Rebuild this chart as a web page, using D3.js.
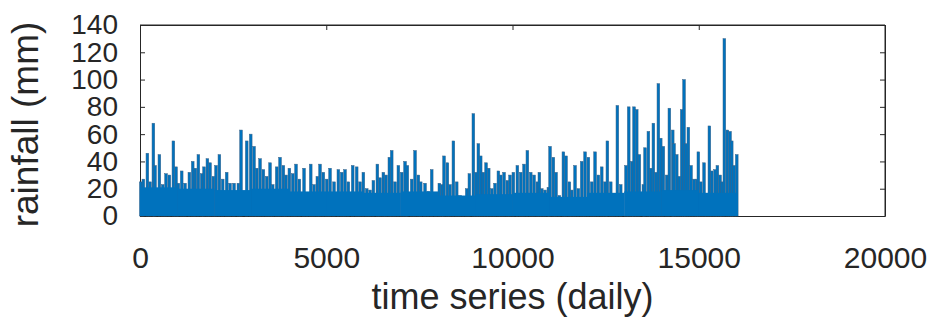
<!DOCTYPE html>
<html>
<head>
<meta charset="utf-8">
<script src="https://cdn.jsdelivr.net/npm/d3@7"></script>
<style>
  html, body { margin: 0; padding: 0; background: #fff; }
  text { font-family: "Liberation Sans", Arial, sans-serif; }
</style>
</head>
<body>
<div id="chart"></div>
<script>
// daily rainfall peaks (day index, mm)
const days = [20, 89, 197, 268, 358, 403, 519, 608, 698, 787, 895, 966, 1029, 1118, 1208, 1324, 1414, 1485, 1566, 1655,
  1718, 1808, 1879, 1969, 2040, 2130, 2219, 2326, 2416, 2523, 2640, 2711, 2864, 2971, 3060, 3132, 3222, 3311, 3400, 3490,
  3562, 3669, 3758, 3848, 3919, 4009, 4099, 4188, 4277, 4403, 4492, 4582, 4671, 4760, 4832, 4921, 5011, 5101, 5208, 5324,
  5414, 5503, 5593, 5709, 5816, 5906, 5995, 6085, 6175, 6264, 6371, 6443, 6532, 6604, 6693, 6756, 6846, 6935, 7024, 7114,
  7176, 7293, 7383, 7472, 7535, 7651, 7740, 7830, 7946, 8035, 8099, 8161, 8251, 8322, 8412, 8501, 8591, 8680, 8770, 8841,
  8948, 9020, 9082, 9145, 9216, 9289, 9360, 9441, 9530, 9620, 9682, 9772, 9861, 9933, 10022, 10129, 10219, 10309, 10398, 10488,
  10577, 10667, 10720, 10784, 10873, 10962, 11007, 11096, 11168, 11257, 11365, 11436, 11526, 11588, 11678, 11767, 11857, 11947, 12036, 12126,
  12215, 12304, 12394, 12483, 12546, 12636, 12725, 12814, 12904, 13046, 13119, 13200, 13262, 13334, 13405, 13512, 13557, 13647, 13710, 13781,
  13852, 13915, 13978, 14048, 14138, 14210, 14300, 14336, 14408, 14478, 14542, 14604, 14658, 14720, 14792, 14873, 14945, 14988, 15052, 15141,
  15213, 15284, 15347, 15437, 15499, 15571, 15616, 15686, 15767, 15839, 15884, 15947, 16019];
const rain = [25, 27, 46, 25, 68, 37, 45, 23, 31, 30, 55, 36, 24, 33, 24, 32, 40, 35, 45, 31,
  36, 42, 39, 29, 37, 45, 27, 32, 24, 24, 24, 63, 55, 60, 51, 35, 42, 34, 29, 39,
  23, 36, 43, 37, 30, 35, 31, 38, 27, 35, 14, 38, 23, 29, 38, 32, 27, 35, 25, 34,
  32, 34, 25, 37, 36, 25, 32, 20, 19, 26, 38, 28, 32, 30, 43, 48, 25, 37, 32, 40,
  37, 27, 48, 30, 25, 24, 18, 34, 15, 24, 23, 44, 39, 23, 55, 25, 15, 14, 20, 31,
  75, 32, 53, 44, 32, 39, 35, 20, 24, 33, 30, 32, 26, 30, 32, 37, 32, 38, 48, 32,
  30, 25, 32, 20, 19, 21, 51, 43, 32, 15, 47, 44, 25, 19, 37, 20, 40, 47, 43, 25,
  47, 30, 36, 25, 55, 25, 15, 81, 23, 37, 80, 40, 80, 78, 45, 23, 50, 62, 35, 68,
  32, 97, 57, 51, 30, 79, 63, 53, 45, 29, 78, 100, 53, 65, 37, 27, 27, 47, 25, 39,
  14, 66, 33, 34, 37, 30, 25, 130, 63, 62, 55, 37, 45];

// level of the dense (solid) part of the record, per 1000-day block
const floorStart = [0, 1000, 2000, 3000, 4000, 5000, 6000, 7000, 8000, 9000, 10000, 11000, 12000, 13000, 14000, 15000, 16000];
const floorRain = [21, 20, 19, 20, 18, 18, 17, 18, 15, 16, 17, 14, 17, 18, 19, 17, 16];
const lastDay = 16050;

const xTicks = [0, 5000, 10000, 15000, 20000];
const yTicks = [0, 20, 40, 60, 80, 100, 120, 140];

// set the dimensions and margins of the graph
const margin = { top: 25, right: 51, bottom: 106, left: 140 },
  width = 936 - margin.left - margin.right,
  height = 322 - margin.top - margin.bottom;

const svg = d3
  .select("#chart")
  .append("svg")
  .attr("width", 936)
  .attr("height", 322)
  .append("g")
  .attr("transform", `translate(${margin.left},${margin.top})`);

const x = d3.scaleLinear().domain([0, 20000]).range([0, width]);
const y = d3.scaleLinear().domain([0, 140]).range([height, 0]);

const ink = "#262626";
const blue = "#0072BD";

// axes (MATLAB style, ticks inside)
const gx = svg.append("g")
  .attr("transform", `translate(0,${height})`)
  .call(d3.axisBottom(x).tickValues(xTicks).tickSizeInner(-5).tickSizeOuter(0).tickPadding(31).tickFormat(d3.format("d")));
const gy = svg.append("g")
  .call(d3.axisLeft(y).tickValues(yTicks).tickSizeInner(-5).tickSizeOuter(0).tickPadding(22));
svg.append("g")
  .call(d3.axisTop(x).tickValues(xTicks).tickSizeInner(-5).tickSizeOuter(0).tickFormat(""));
svg.append("g")
  .attr("transform", `translate(${width},0)`)
  .call(d3.axisRight(y).tickValues(yTicks).tickSizeInner(-5).tickSizeOuter(0).tickFormat(""));

svg.selectAll(".domain, .tick line").attr("stroke", ink).attr("stroke-width", 1);
gx.selectAll("text").attr("font-size", 30).attr("fill", ink);
gy.selectAll("text").attr("font-size", 28).attr("fill", ink);

// spikes
svg.append("g")
  .selectAll("rect")
  .data(days)
  .join("rect")
  .attr("x", (d) => x(d) - 1.3)
  .attr("width", 2.7)
  .attr("y", (d, i) => y(rain[i]))
  .attr("height", (d, i) => height - y(rain[i]))
  .attr("fill", blue)
  .attr("stroke", "#3b6387")
  .attr("stroke-width", 0.5);

// dense part drawn on top
svg.append("g")
  .selectAll("rect")
  .data(floorStart)
  .join("rect")
  .attr("x", (d) => x(d))
  .attr("width", (d, i) => x(i < floorStart.length - 1 ? floorStart[i + 1] : lastDay) - x(d))
  .attr("y", (d, i) => y(floorRain[i]))
  .attr("height", (d, i) => height - y(floorRain[i]))
  .attr("fill", blue);

// box top and right edges
svg.append("path")
  .attr("d", `M0,0H${width}V${height}`)
  .attr("fill", "none")
  .attr("stroke", ink);

// axis titles
svg.append("text")
  .attr("x", width / 2)
  .attr("y", height + 93)
  .attr("text-anchor", "middle")
  .attr("font-size", 36)
  .attr("fill", ink)
  .text("time series (daily)");

svg.append("text")
  .attr("transform", `translate(${38 - margin.left},${height / 2 + 4}) rotate(-90)`)
  .attr("text-anchor", "middle")
  .attr("font-size", 37)
  .attr("fill", ink)
  .text("rainfall (mm)");
</script>
</body>
</html>
